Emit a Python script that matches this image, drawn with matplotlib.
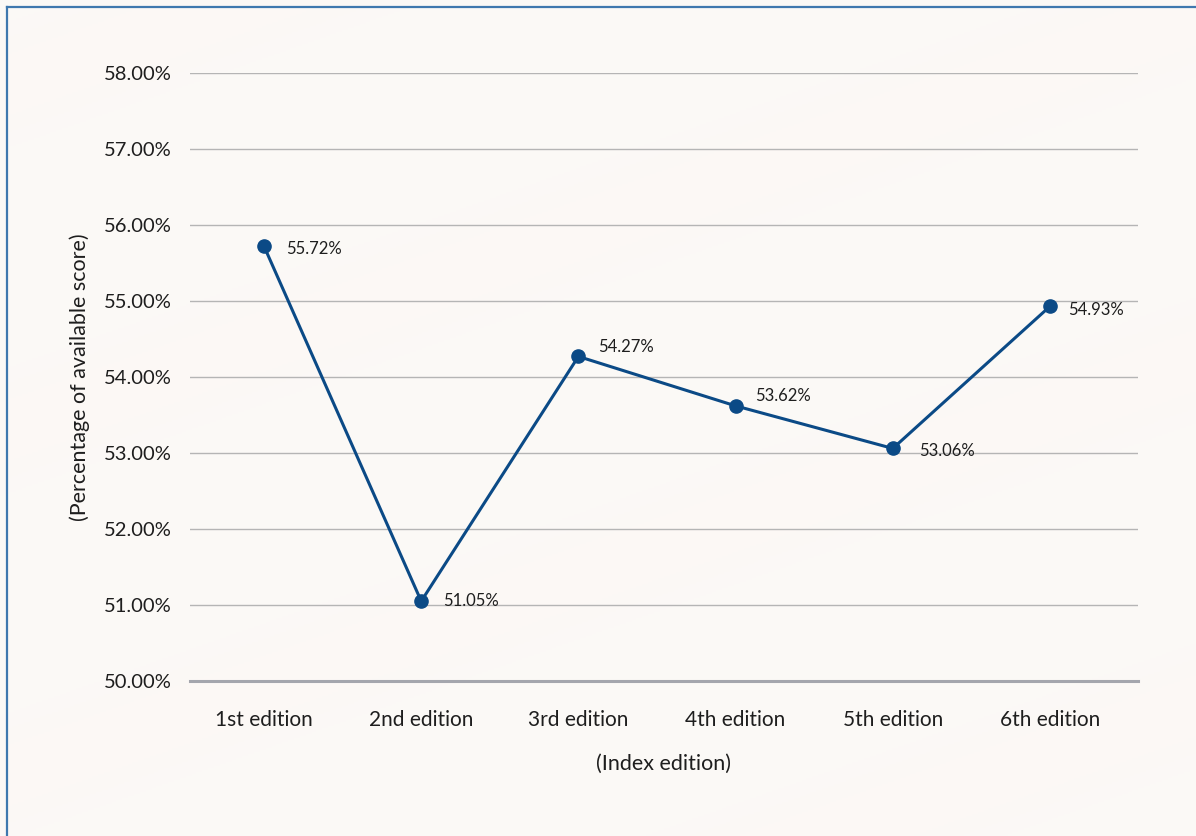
import matplotlib
matplotlib.use("Agg")
import matplotlib.pyplot as plt
import numpy as np

editions = ["1st edition", "2nd edition", "3rd edition", "4th edition", "5th edition", "6th edition"]
scores = [55.72, 51.05, 54.27, 53.62, 53.06, 54.93]
y_ticks = [50, 51, 52, 53, 54, 55, 56, 57, 58]

# offsets (points) of each value label from its marker
label_offsets = [(16, -2), (16, 0), (14, 7), (14, 7), (19, -2), (13, -3)]

plt.rcParams['font.family'] = ['Lato', 'DejaVu Sans']

W, H = 1196, 836
fig = plt.figure(figsize=(W / 100, H / 100), dpi=100)
fig.patch.set_facecolor("#fbfaf7")

# faint warm streaks in the page background
bg = fig.add_axes([0, 0, 1, 1], zorder=-10)
bg.set_axis_off()
yy, xx = np.mgrid[0:H:2, 0:W:2]
streak = 0.5 + 0.5 * np.sin((xx * 0.35 + yy) / 55.0)
base = np.array([0.985, 0.980, 0.968])
tint = np.array([0.992, 0.970, 0.960])
img = base * (1 - streak[..., None] * 0.5) + tint * (streak[..., None] * 0.5)
bg.imshow(img, extent=[0, 1, 0, 1], aspect="auto", origin="upper")
bg.set_xlim(0, 1)
bg.set_ylim(0, 1)

# frame border (left and top)
fig.add_artist(plt.Line2D([6.5 / W, 6.5 / W], [0, 1 - 6.5 / H], transform=fig.transFigure,
                          color="#3f78ae", lw=1.6))
fig.add_artist(plt.Line2D([6.5 / W, 1], [1 - 6.5 / H, 1 - 6.5 / H], transform=fig.transFigure,
                          color="#3f78ae", lw=1.6))

left, right = 190 / W, 1138 / W
bottom, top = 1 - 681 / H, 1 - 73 / H
ax = fig.add_axes([left, bottom, right - left, top - bottom])
ax.set_facecolor("none")

x = np.arange(len(editions))
ax.plot(x, scores, color="#0b4a86", lw=2.2, marker="o", markersize=9.5, zorder=5)

for xi, v, off in zip(x, scores, label_offsets):
    ax.annotate(f"{v:.2f}%", (xi, v), xytext=off, textcoords="offset points",
                ha="left", va="center", fontsize=12, color="#1e1e1e")

ax.set_xlim(-0.471, 5.56)
ax.set_ylim(50, 58)
ax.set_yticks(y_ticks)
ax.set_yticklabels([f"{t:.2f}%" for t in y_ticks])
ax.set_xticks(x)
ax.set_xticklabels(editions)
ax.tick_params(axis="both", length=0, colors="#1e1e1e")
ax.tick_params(axis="y", pad=13, labelsize=14.5)
ax.tick_params(axis="x", pad=21, labelsize=15)

ax.grid(axis="y", color="#b5b5b5", lw=1.0)
ax.set_axisbelow(True)
for s in ["top", "right", "left"]:
    ax.spines[s].set_visible(False)
ax.spines["bottom"].set_color("#a4a6ad")
ax.spines["bottom"].set_linewidth(2.2)

ax.set_ylabel("(Percentage of available score)", fontsize=15.5, color="#1e1e1e", labelpad=10)
ax.set_xlabel("(Index edition)", fontsize=15.5, color="#1e1e1e", labelpad=17)

fig.savefig("out.png", dpi=100, facecolor=fig.get_facecolor())
